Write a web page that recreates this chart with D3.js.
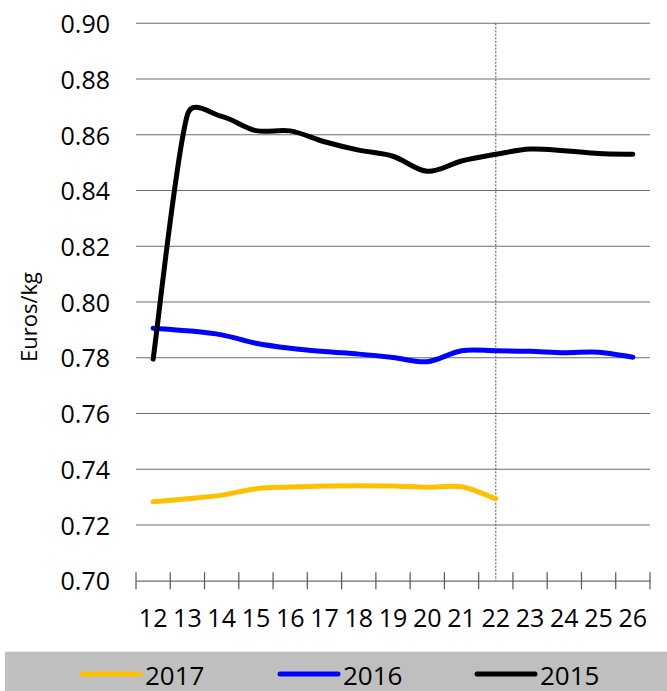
<!DOCTYPE html>
<html>
<head>
<meta charset="utf-8">
<script src="https://cdn.jsdelivr.net/npm/d3@7"></script>
<style>
  html, body { margin: 0; padding: 0; background: #fff; }
  svg { display: block; font-family: "Open Sans", "DejaVu Sans", sans-serif; }
</style>
</head>
<body>
<svg id="chart" width="667" height="691"></svg>
<script>
// ---- data ----
const weeks = ["12","13","14","15","16","17","18","19","20","21","22","23","24","25","26"];
const seriesNames = ["2017", "2016", "2015"];
const seriesColors = ["#ffc000", "#0000ff", "#000000"];
const values2017 = [0.7283, 0.7294, 0.7307, 0.7330, 0.7336, 0.7340, 0.7341, 0.7340, 0.7335, 0.7337, 0.7294];
const values2016 = [0.7906, 0.7897, 0.7882, 0.7852, 0.7834, 0.7822, 0.7813, 0.7801, 0.7786, 0.7825, 0.7825, 0.7823, 0.7818, 0.7820, 0.7802];
const values2015 = [0.7795, 0.8672, 0.8666, 0.8615, 0.8614, 0.8575, 0.8545, 0.8523, 0.8469, 0.8506, 0.8530, 0.8549, 0.8543, 0.8533, 0.8530];
const yTicks = [0.70, 0.72, 0.74, 0.76, 0.78, 0.80, 0.82, 0.84, 0.86, 0.88, 0.90];
const markerWeek = "22";
const yTitle = "Euros/kg";

const seriesValues = [values2017, values2016, values2015];

// Spreadsheet-style smoothed line: Bezier segments with tangents (P[i+1]-P[i-1])/6,
// each control arm capped at half the segment length.
function SmoothCurve(context) { this._context = context; }
SmoothCurve.prototype = {
  areaStart() { this._line = 0; },
  areaEnd() { this._line = NaN; },
  lineStart() { this._xs = []; this._ys = []; },
  point(px, py) { this._xs.push(+px); this._ys.push(+py); },
  lineEnd() {
    const xs = this._xs, ys = this._ys, n = xs.length, c = this._context;
    if (!n) return;
    c.moveTo(xs[0], ys[0]);
    if (n === 1) return;
    for (let i = 0; i < n - 1; i++) {
      const a = i > 0 ? i - 1 : i;
      const b = i + 2 < n ? i + 2 : i + 1;
      const seg = Math.hypot(xs[i + 1] - xs[i], ys[i + 1] - ys[i]);
      let t1x = (xs[i + 1] - xs[a]) / 6, t1y = (ys[i + 1] - ys[a]) / 6;
      let l1 = Math.hypot(t1x, t1y);
      if (l1 > seg / 2) { t1x *= seg / 2 / l1; t1y *= seg / 2 / l1; }
      let t2x = (xs[b] - xs[i]) / 6, t2y = (ys[b] - ys[i]) / 6;
      let l2 = Math.hypot(t2x, t2y);
      if (l2 > seg / 2) { t2x *= seg / 2 / l2; t2y *= seg / 2 / l2; }
      c.bezierCurveTo(xs[i] + t1x, ys[i] + t1y, xs[i + 1] - t2x, ys[i + 1] - t2y, xs[i + 1], ys[i + 1]);
    }
  }
};
const curveSmooth = ctx => new SmoothCurve(ctx);

(function () {
const svg = d3.select("#chart");
const pLeft = 136, pRight = 650, pTop = 23.3, pBottom = 580.7;

const x = d3.scaleBand().domain(weeks).range([pLeft, pRight]).padding(0);
const y = d3.scaleLinear().domain([0.70, 0.90]).range([pBottom, pTop]);
const cx = d => x(d) + x.bandwidth() / 2;

// gridlines
svg.append("g").selectAll("line")
  .data(yTicks.slice(1))
  .join("line")
  .attr("x1", pLeft).attr("x2", pRight)
  .attr("y1", d => y(d)).attr("y2", d => y(d))
  .attr("stroke", "#6e6e6e").attr("stroke-width", 1.1);

// y axis labels
const yAxis = svg.append("g")
  .attr("transform", `translate(${pLeft},0)`)
  .call(d3.axisLeft(y).tickValues(yTicks).tickFormat(d3.format(".2f")).tickSize(0).tickPadding(26));
yAxis.select(".domain").remove();
yAxis.selectAll("text")
  .attr("font-size", 25)
  .attr("font-family", "'Open Sans', sans-serif")
  .attr("fill", "#000")
  .attr("dy", "0.37em");

// y title
svg.append("text")
  .attr("transform", "translate(28,317) rotate(-90)")
  .attr("text-anchor", "middle")
  .attr("dominant-baseline", "central")
  .attr("font-size", 22)
  .attr("fill", "#000")
  .text(yTitle);

// dashed marker line
svg.append("line")
  .attr("x1", cx(markerWeek)).attr("x2", cx(markerWeek))
  .attr("y1", y(0.90)).attr("y2", y(0.70))
  .attr("stroke", "#555").attr("stroke-width", 1)
  .attr("stroke-dasharray", "2,1.5");

// x axis
const xAxis = svg.append("g")
  .attr("transform", `translate(0,${pBottom})`)
  .call(d3.axisBottom(x).tickSize(0).tickPadding(0));
xAxis.select(".domain").attr("stroke", "#6e6e6e").attr("stroke-width", 1.2);
xAxis.selectAll("text")
  .attr("font-size", 25)
  .attr("font-family", "'Open Sans', sans-serif")
  .attr("fill", "#000")
  .attr("y", 46).attr("dy", 0);

// boundary tick marks
const boundaries = weeks.map(w => x(w)).concat([pRight]);
xAxis.append("g").selectAll("line")
  .data(boundaries)
  .join("line")
  .attr("x1", d => d).attr("x2", d => d)
  .attr("y1", -8.5).attr("y2", 8.5)
  .attr("stroke", "#555").attr("stroke-width", 1.2);

// series lines
const line = d3.line()
  .x((d, i) => cx(weeks[i]))
  .y(d => y(d))
  .curve(curveSmooth);

svg.append("g").selectAll("path")
  .data(seriesValues)
  .join("path")
  .attr("d", d => line(d))
  .attr("fill", "none")
  .attr("stroke", (d, i) => seriesColors[i])
  .attr("stroke-width", 5)
  .attr("stroke-linecap", "round")
  .attr("stroke-linejoin", "round");

// legend
svg.append("rect")
  .attr("x", 5).attr("y", 651.7)
  .attr("width", 662).attr("height", 40)
  .attr("fill", "#bfbfbf");

const legendStart = [82, 280, 477];
const leg = svg.append("g").selectAll("g")
  .data(seriesNames)
  .join("g")
  .attr("transform", (d, i) => `translate(${legendStart[i]},674)`);
leg.append("line")
  .attr("x1", 0).attr("x2", 58)
  .attr("y1", 0).attr("y2", 0)
  .attr("stroke", (d, i) => seriesColors[i])
  .attr("stroke-width", 5)
  .attr("stroke-linecap", "round");
leg.append("text")
  .attr("x", 63).attr("y", 10.5)
  .attr("font-size", 26)
  .attr("fill", "#000")
  .text(d => d);
})();
</script>
</body>
</html>
